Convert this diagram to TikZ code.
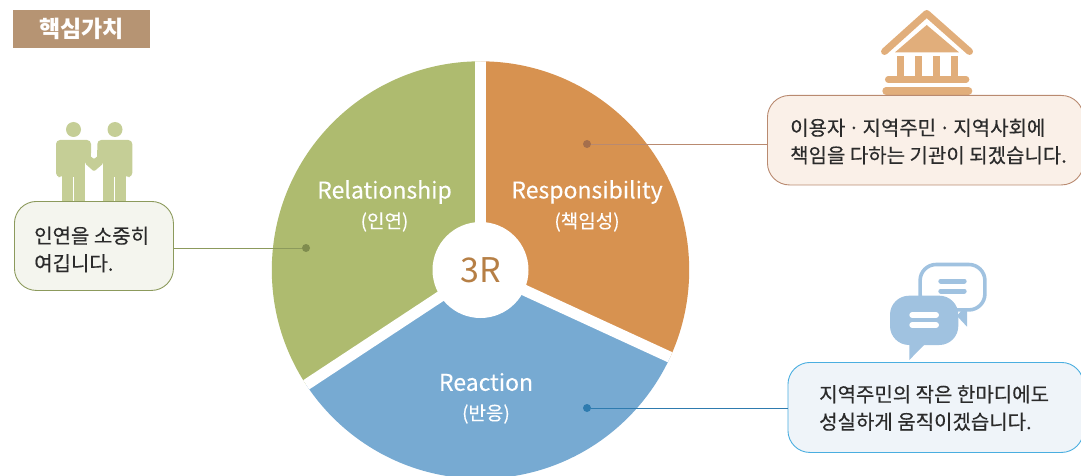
\documentclass[tikz,border=0pt]{standalone}
\usepackage{fontspec}
\setmainfont{Noto Sans CJK KR}
\newfontfamily\krm[FakeBold=0.35]{Noto Sans CJK KR}
\newfontfamily\krl[FakeBold=0.15]{Noto Sans CJK KR}
\definecolor{cgreen}{HTML}{AEBB6F}
\definecolor{corange}{HTML}{D79250}
\definecolor{cblue}{HTML}{77AAD2}
\definecolor{ctitle}{HTML}{B69473}
\definecolor{igreen}{HTML}{C5CE96}
\definecolor{iorange}{HTML}{E1AE7B}
\definecolor{iblue}{HTML}{A0C2E0}
\definecolor{lgreen}{HTML}{8C9A5C}
\definecolor{lorange}{HTML}{B98A70}
\definecolor{lblue}{HTML}{4AAEE0}
\definecolor{dgreen}{HTML}{7F8C4E}
\definecolor{dorange}{HTML}{A56F4C}
\definecolor{dblue}{HTML}{2E7BAF}
\definecolor{txt}{HTML}{2B2B2B}
\newcommand{\mdot}{\hspace{-1.5pt}·\hspace{-1.5pt}}
\tikzset{
  x=1pt,y=-1pt,
  callout/.style={draw=#1,line width=0.9pt,rounded corners=22pt,anchor=north west,inner sep=0pt},
  callouttext/.style={anchor=west,inner sep=0pt,align=left,text=txt,font=\krm\fontsize{20}{27.5}\selectfont},
  dotmark/.style={circle,fill=#1,inner sep=0pt,minimum size=8pt},
  pielabel/.style={text=white,inner sep=0pt,font=\krl\fontsize{23}{26}\selectfont},
  piesub/.style={text=white,inner sep=0pt,font=\krl\fontsize{19}{21}\selectfont},
  gap/.style={white,line width=11pt}
}
\begin{document}
\begin{tikzpicture}
\useasboundingbox (0,0) rectangle (1081,476);
\clip (0,0) rectangle (1081,476);
% pie
\coordinate (c) at (480.5,270);
\coordinate (er) at (753,395.4);
\coordinate (el) at (230,435);
\begin{scope}
  \clip (c) circle (208.7pt);
  \fill[corange] (c) -- (480.5,-30) -- (1000,-30) -- (er) -- cycle;
  \fill[cblue] (c) -- (er) -- (480.5,900) -- (el) -- cycle;
  \fill[cgreen] (c) -- (el) -- (0,-30) -- (480.5,-30) -- cycle;
  \draw[gap] (c) -- (480.5,-30);
  \draw[gap] (c) -- (er);
  \draw[gap] (c) -- (el);
\end{scope}
\node[circle,fill=white,minimum size=96pt,inner sep=0pt,text={rgb,255:red,182;green,127;blue,69},font=\fontsize{34}{36}\selectfont] (hub) at (c) {3R};
\node[pielabel] (l1) at (384.5,192) {Relationship};
\node[piesub] (s1) at (384.5,222) {(인연)};
\node[pielabel] (l2) at (587,192) {Responsibility};
\node[piesub] (s2) at (587,222) {(책임성)};
\node[pielabel] (l3) at (486,382) {Reaction};
\node[piesub] (s3) at (486,414) {(반응)};
% title
\node[fill=ctitle,minimum width=137pt,minimum height=38pt,inner sep=0pt,text=white,font=\bfseries\fontsize{23}{25}\selectfont] (title) at (81.5,29) {핵심가치};
% people icon
\fill[igreen] (73.5,129.5) circle (7.5pt);
\fill[igreen] (115,129.5) circle (7.5pt);
\fill[igreen,rounded corners=4pt] (56,177) -- (56,140) -- (91,140) -- (91,157) -- (62,177) -- cycle;
\fill[igreen] (62,160) rectangle (85,177);
\fill[igreen] (62,150) rectangle (91,160);
\fill[igreen] (62,177) rectangle (72.8,205);
\fill[igreen] (74,177) rectangle (85,205);
\fill[igreen,rounded corners=4pt] (132.3,177) -- (132.3,140) -- (97.3,140) -- (97.3,157) -- (126,177) -- cycle;
\fill[igreen] (103.3,150) rectangle (126,177);
\fill[igreen] (97.3,150) rectangle (103.3,160);
\fill[igreen] (103.3,177) rectangle (114.2,205);
\fill[igreen] (115.2,177) rectangle (126,205);
\fill[igreen,rounded corners=1.5pt] (85,156) -- (90.7,156) -- (94,159.5) -- (97.3,156) -- (103.3,156) -- (103.3,163.5) -- (94,171.5) -- (85,163.5) -- cycle;
% building icon
\draw[iorange,line width=7pt,line cap=round,line join=round] (884.5,51.5) -- (926.7,13.5) -- (969.5,51.5);
\fill[iorange] (926.7,25) -- (959,52.3) -- (895,52.3) -- cycle;
\fill[iorange] (896.7,56) rectangle (904,76);
\fill[iorange] (914.7,56) rectangle (922.3,76);
\fill[iorange] (932.7,56) rectangle (940.3,76);
\fill[iorange] (950.7,56) rectangle (958.3,76);
\draw[iorange,line width=6.7pt,line cap=round] (888.3,79.4) -- (966,79.4);
\draw[iorange,line width=7.4pt,line cap=round] (886,91) -- (968.6,91);
% speech icon
\draw[iblue,line width=3.6pt,rounded corners=16pt] (920.1,264.5) rectangle (984.9,309.9);
\fill[iblue] (961,311) -- (967,309) -- (967,326.7) -- (957,316) -- cycle;
\draw[iblue,line width=5pt,line cap=round] (940.8,281) -- (964.2,281);
\draw[iblue,line width=5pt,line cap=round] (940.8,291) -- (964.2,291);
\fill[iblue,rounded corners=19pt] (890,295.7) rectangle (958.3,345);
\fill[iblue] (909.3,344) -- (909.3,360) -- (925,344) -- cycle;
\draw[white,line width=6pt,line cap=round] (912.3,315) -- (936,315);
\draw[white,line width=6pt,line cap=round] (912.3,325) -- (936,325);
% boxes
\node[callout=lgreen,fill={rgb,255:red,244;green,245;blue,238},minimum width=159pt,minimum height=89pt] (b1) at (14,201) {};
\node[callout=lorange,fill={rgb,255:red,250;green,240;blue,232},minimum width=316pt,minimum height=89.5pt] (b2) at (767,95) {};
\node[callout=lblue,fill={rgb,255:red,239;green,244;blue,249},minimum width=295.5pt,minimum height=90pt] (b3) at (787.5,362) {};
\node[callouttext] (t1) at (34,249.5) {인연을 소중히\\여깁니다.};
\node[callouttext] (t2) at (790,141.5) {이용자 \mdot{} 지역주민 \mdot{} 지역사회에\\책임을 다하는 기관이 되겠습니다.};
\node[callouttext] (t3) at (819,408) {지역주민의 작은 한마디에도\\성실하게 움직이겠습니다.};
% dots + connectors
\node[dotmark=dgreen] (d1) at (306,248) {};
\node[dotmark=dorange] (d2) at (587,144) {};
\node[dotmark=dblue] (d3) at (587,408) {};
\draw[lgreen,line width=0.9pt] (d1) -- (d1 -| b1.east);
\draw[lorange,line width=0.9pt] (d2) -- (d2 -| b2.west);
\draw[dblue,line width=0.9pt] (d3) -- (d3 -| b3.west);
\end{tikzpicture}
\end{document}
